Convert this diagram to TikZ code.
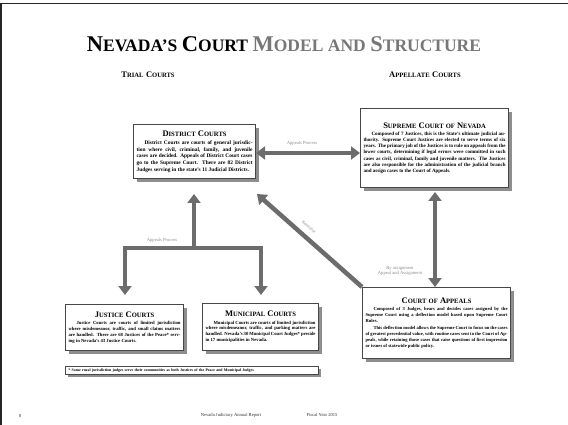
\documentclass[tikz,border=0pt]{standalone}
\usepackage{fontspec}
\setmainfont{Liberation Serif}
\usetikzlibrary{arrows.meta,shadows,calc}
\definecolor{arrowgray}{HTML}{6C6C6C}
\definecolor{boxline}{HTML}{474747}
\definecolor{shadowgray}{HTML}{8E8E8E}
\definecolor{titlegray}{HTML}{777777}
\definecolor{labelgray}{HTML}{8A8A8A}
\newcommand\scw[4]{{\fontsize{#1}{#1}\selectfont #3}{\fontsize{#2}{#2}\selectfont #4}}
\newcommand\bxtitle[1]{\makebox[\hsize]{\fontsize{8.5}{9}\selectfont\bfseries #1}\par\vspace{1.2pt}}
\newcommand\pin{\hspace*{8pt}}
\begin{document}
\begin{tikzpicture}[x=1pt,y=-1pt,
  court/.style={draw=boxline, line width=1.1pt, fill=white, anchor=north west,
    inner xsep=3pt, inner ysep=3pt, align=justify,
    font=\fontsize{4.8}{6.1}\selectfont\bfseries,
    drop shadow={shadow xshift=3.5pt, shadow yshift=-3.5pt, fill=shadowgray, opacity=1}},
  fat/.style={draw=arrowgray, line width=4.5pt, line join=miter,
    arrows={-Triangle[width=13pt,length=9pt]}},
  fatboth/.style={fat, arrows={Triangle[width=13pt,length=9pt]-Triangle[width=13pt,length=9pt]}},
  lbl/.style={text=labelgray, font=\fontsize{4.6}{5.2}\selectfont, inner sep=0pt},
  head/.style={font=\bfseries\fontsize{10}{10}\selectfont, inner sep=0pt},
  foot/.style={font=\fontsize{4.6}{5}\selectfont, inner sep=0pt, text=black!80}]
\useasboundingbox (0,0) rectangle (568,425);
\draw[line width=1.6pt, black!85] (1.2,425) -- (1.2,3.5) -- (568,3.5);

% title
\node[font=\bfseries\fontsize{18}{18}\selectfont, inner sep=0pt, anchor=base] (title) at (284,52)
 {\scw{22.5}{17.5}{N}{EVADA’S} \scw{22.5}{17.5}{C}{OURT} {\color{titlegray}\scw{22.5}{17.5}{M}{ODEL} \scw{17.5}{17.5}{}{AND} \scw{22.5}{17.5}{S}{TRUCTURE}}};
\node[head, anchor=base] (trial) at (148,78) {\scw{8.5}{6.6}{T}{RIAL} \scw{8.5}{6.6}{C}{OURTS}};
\node[head, anchor=base] (appel) at (425,78) {\scw{8.5}{6.6}{A}{PPELLATE} \scw{8.5}{6.6}{C}{OURTS}};

% boxes
\node[court, font=\fontsize{5.4}{6.7}\selectfont\bfseries, text width=116pt, minimum width=122pt, minimum height=54pt] (district) at (133,124)
 {\bxtitle{\scw{8.5}{6.6}{D}{ISTRICT} \scw{8.5}{6.6}{C}{OURTS}}
  \pin District Courts are courts of general jurisdiction where civil, criminal, family, and juvenile cases are decided. Appeals of District Court cases go to the Supreme Court. There are 82 District Judges serving in the state’s 11 Judicial Districts.};

\node[court, font=\fontsize{5}{6.1}\selectfont\bfseries, text width=142pt, minimum width=148pt, minimum height=79pt] (supreme) at (360,108)
 {\bxtitle{\scw{8.5}{6.6}{S}{UPREME} \scw{8.5}{6.6}{C}{OURT} \scw{6.6}{6.6}{}{OF} \scw{8.5}{6.6}{N}{EVADA}}
  \pin Composed of 7 Justices, this is the State’s ultimate judicial authority. Supreme Court Justices are elected to serve terms of six years. The primary job of the Justices is to rule on appeals from the lower courts, determining if legal errors were committed in such cases as civil, criminal, family and juvenile matters. The Justices are also responsible for the administration of the judicial branch and assign cases to the Court of Appeals.};

\node[court, font=\fontsize{4.6}{6}\selectfont\bfseries, text width=142pt, minimum width=148pt, minimum height=71pt] (appeals) at (362,287)
 {\bxtitle{\scw{8.5}{6.6}{C}{OURT} \scw{6.6}{6.6}{}{OF} \scw{8.5}{6.6}{A}{PPEALS}}
  \pin Composed of 3 Judges, hears and decides cases assigned by the Supreme Court using a deflection model based upon Supreme Court Rules.\par\vspace{1.5pt}
  \pin This deflection model allows the Supreme Court to focus on the cases of greatest precedential value, with routine cases sent to the Court of Appeals, while retaining those cases that raise questions of first impression or issues of statewide public policy.};

\node[court, font=\fontsize{4.7}{5.9}\selectfont\bfseries, text width=112pt, minimum width=118pt, minimum height=46pt] (justice) at (65,304)
 {\bxtitle{\scw{8.5}{6.6}{J}{USTICE} \scw{8.5}{6.6}{C}{OURTS}}
  \pin Justice Courts are courts of limited jurisdiction where misdemeanor, traffic, and small claims matters are handled. There are 68 Justices of the Peace* serving in Nevada’s 43 Justice Courts.};

\node[court, font=\fontsize{4.7}{5.9}\selectfont\bfseries, text width=110pt, minimum width=116pt, minimum height=47pt] (municipal) at (202,303)
 {\bxtitle{\scw{8.5}{6.6}{M}{UNICIPAL} \scw{8.5}{6.6}{C}{OURTS}}
  \pin Municipal Courts are courts of limited jurisdiction where misdemeanor, traffic, and parking matters are handled. Nevada’s 30 Municipal Court Judges* preside in 17 municipalities in Nevada.};

\node[draw=boxline, line width=0.8pt, fill=white, anchor=north west, minimum width=253pt, minimum height=8pt,
  text width=247pt, inner xsep=3pt, inner ysep=0pt, align=left, font=\fontsize{3.9}{4.2}\selectfont\bfseries,
  drop shadow={shadow xshift=2.5pt, shadow yshift=-2.5pt, fill=shadowgray, opacity=1}] (note) at (65,366)
 {* Some rural jurisdiction judges serve their communities as both Justices of the Peace and Municipal Judges};

% connectors
\coordinate (barL) at (125,248);
\coordinate (barR) at (261,248);
\draw[fatboth] (district.east |- 0,153) -- (supreme.west |- 0,153);
\node[lbl] (lblA) at (302,143) {Appeals Process};

\draw[fatboth] (435,192) coordinate (vt) -- (435,287) coordinate (vb);
\node[lbl, align=center] (lblB) at (400,271) {By assignment\\Appeal and Assignment};

\coordinate (dtip) at (257,194);
\draw[fat] (appeals.north west) -- (dtip);
\node[lbl, rotate=-42, font=\fontsize{4.2}{5}\selectfont] (lblC) at (309,227) {Remittitur};

\draw[fatboth] (barL |- 0,295) -- (barL) -- (barR) -- (barR |- 0,295);
\draw[fat] (194,248) -- (194,194);
\node[lbl] (lblD) at (162,240) {Appeals Process};

% footer
\node[foot] (pg) at (20,416) {8};
\node[foot] (rep) at (231,415) {Nevada Judiciary Annual Report};
\node[foot] (fy) at (322,415) {Fiscal Year 2015};
\end{tikzpicture}
\end{document}
